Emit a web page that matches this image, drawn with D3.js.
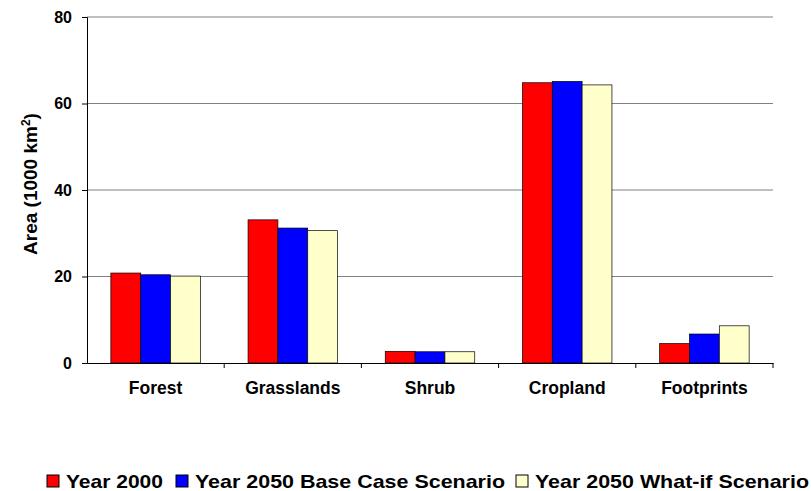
<!DOCTYPE html><html><head><meta charset="utf-8"><script src="https://cdn.jsdelivr.net/npm/d3@7"></script>
<style>body{margin:0;background:#fff}text{font-family:Arial,"Liberation Sans",sans-serif;font-weight:bold}</style></head><body><svg width="811" height="491"></svg><script>
const categories=["Forest","Grasslands","Shrub","Cropland","Footprints"];
const seriesNames=["Year 2000","Year 2050 Base Case Scenario","Year 2050 What-if Scenario"];
const colors=["#ff0000","#0000ff","#ffffcc"];
const y2000=[20.8,33.1,2.7,64.8,4.5];
const yBase=[20.4,31.2,2.6,65.1,6.7];
const yWhatIf=[20.1,30.6,2.6,64.3,8.6];
const yTicks=[0,20,40,60,80];
const values=[y2000,yBase,yWhatIf];
const svg=d3.select("svg");
const L=87,R=773,T=17,B=363;
const x=d3.scaleBand().domain(categories).range([L,R]);
const xs=d3.scaleBand().domain([0,1,2]).range([0,x.bandwidth()]).paddingOuter(0.8).paddingInner(0);
const y=d3.scaleLinear().domain([0,80]).range([B,T]);
svg.append("g").selectAll("line").data(yTicks.slice(1)).join("line").attr("x1",L).attr("x2",R).attr("y1",d=>y(d)).attr("y2",d=>y(d)).attr("stroke","#808080").attr("stroke-width",1);
categories.forEach((c,i)=>{values.forEach((s,j)=>{svg.append("rect").attr("x",x(c)+xs(j)).attr("y",y(s[i])).attr("width",xs.bandwidth()).attr("height",B-y(s[i])).attr("fill",colors[j]).attr("stroke","#000").attr("stroke-width",0.7);});});
const ya=svg.append("g").attr("transform",`translate(${L},0)`).call(d3.axisLeft(y).tickValues(yTicks).tickSize(5).tickPadding(10).tickFormat(d3.format("d")));
const xa=svg.append("g").attr("transform",`translate(0,${B})`).call(d3.axisBottom(x).tickSize(0).tickPadding(20));
xa.selectAll(".tick").append("line").attr("x1",x.bandwidth()/2).attr("x2",x.bandwidth()/2).attr("y2",5).attr("stroke","#000");
svg.selectAll(".domain").attr("stroke","#000");
svg.selectAll(".tick text").attr("fill","#000").style("font-family","Arial,'Liberation Sans'").style("font-weight","bold");
xa.selectAll(".tick text").attr("font-size",17.5).attr("dy","0.6em");
ya.selectAll(".tick text").attr("font-size",16);
svg.append("text").attr("transform","translate(37,184) rotate(-90)").attr("text-anchor","middle").attr("font-size",19).html('Area (1000 km<tspan baseline-shift="super" font-size="12">2</tspan>)');
const lg=svg.append("g");
const lx=[47,176,516],lwid=[97,310,274];
seriesNames.forEach((n,j)=>{lg.append("rect").attr("x",lx[j]).attr("y",475).attr("width",12).attr("height",12).attr("fill",colors[j]).attr("stroke","#000");lg.append("text").attr("x",lx[j]+19).attr("y",488).attr("font-size",19).attr("textLength",lwid[j]).attr("lengthAdjust","spacingAndGlyphs").text(n);});
</script></body></html>
